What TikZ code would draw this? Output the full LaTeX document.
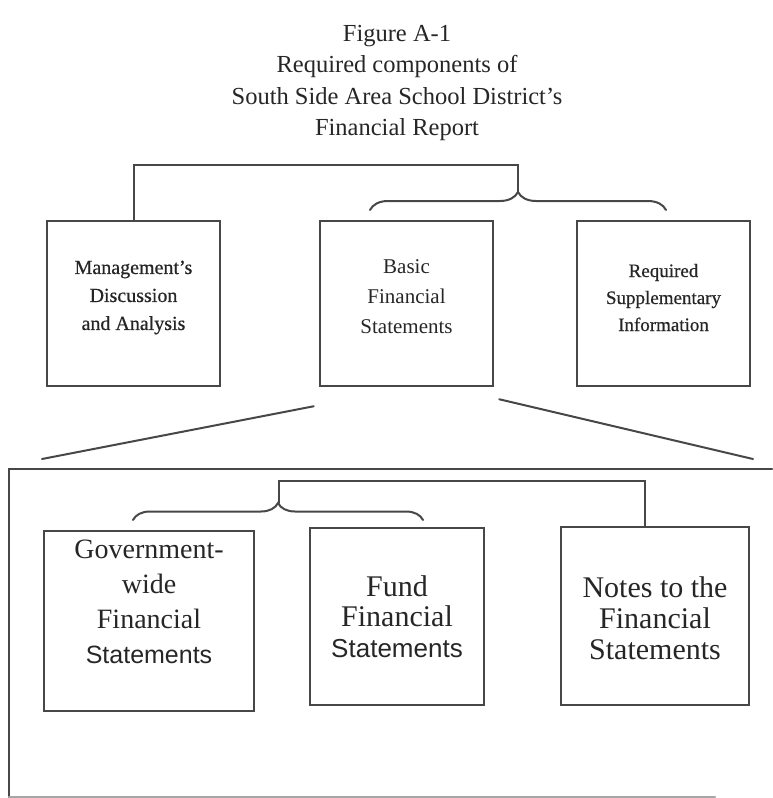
\documentclass[tikz,border=0pt]{standalone}
\usepackage{fontspec}
\setmainfont{Liberation Serif}
\newfontfamily\arialfont{Liberation Sans}
\newfontfamily\heavyfont[Ligatures=TeX,FakeBold=0.6]{Liberation Serif}
\usetikzlibrary{decorations.pathreplacing}

\begin{document}
\begin{tikzpicture}[x=1pt,y=-1pt,line cap=round,
    box/.style={draw=linecolor,line width=2.5pt,inner sep=0pt},
    boxtext/.style={align=center,text=textcolor,inner sep=0pt},
    link/.style={draw=linecolor,line width=2pt},
    curly/.style={link,decorate,decoration={brace,amplitude=#1}},
    curly/.default=17pt]

    \colorlet{linecolor}{black!72}
    \colorlet{textcolor}{black!85}

    \useasboundingbox (0,0) rectangle (772,798);

    \node[boxtext,font=\fontsize{24.5}{31.5}\selectfont] (title) at (397,83)
        {Figure A-1\\Required components of\\South Side Area School District's\\Financial Report};

    % top row
    \node[box,minimum width=173pt,minimum height=165pt] (mda) at (133.5,303.5) {};
    \node[box,minimum width=173pt,minimum height=165pt] (bfs) at (406.5,303.5) {};
    \node[box,minimum width=173pt,minimum height=165pt] (rsi) at (663.5,303.5) {};

    \node[boxtext,font=\heavyfont\fontsize{20}{28}\selectfont] at ([yshift=6pt]mda.center)
        {Management's\\Discussion\\and Analysis};
    \node[boxtext,font=\fontsize{21}{30}\selectfont] at ([yshift=7pt]bfs.center)
        {Basic\\Financial\\Statements};
    \node[boxtext,font=\heavyfont\fontsize{19}{27}\selectfont] at ([yshift=6pt]rsi.center)
        {Required\\Supplementary\\Information};

    \coordinate (topbar) at (518,165);
    \coordinate (toptip) at (518,192);
    \draw[link] (mda.north) |- (topbar) -- (toptip);
    \draw[curly=18pt] (370,210) -- (666,210);

    % fan out to the panel
    \coordinate (fanL) at (42,459);
    \coordinate (fanR) at (753,459);
    \draw[link] ([shift={(-5,19)}]bfs.south west) -- (fanL);
    \draw[link] ([shift={(5,12)}]bfs.south east) -- (fanR);

    \draw[box] (772,469) -- (9,469) -- (9,797);
    \draw[box,draw=black!35] (9,797) -- (715,797);

    % bottom row
    \node[box,minimum width=210pt,minimum height=180pt] (gwfs) at (149,621) {};
    \node[box,minimum width=174pt,minimum height=177pt] (ffs) at (397,616.5) {};
    \node[box,minimum width=188pt,minimum height=178pt] (notes) at (655,616) {};

    \node[boxtext,font=\fontsize{28}{35}\selectfont] at ([yshift=19pt]gwfs.center)
        {Government-\\wide\\Financial\\{\arialfont\fontsize{25}{35}\selectfont Statements}};
    \node[boxtext,font=\fontsize{30}{30.5}\selectfont] at (ffs.center)
        {Fund\\Financial\\{\arialfont\fontsize{26}{30.5}\selectfont Statements}};
    \node[boxtext,font=\fontsize{30}{31}\selectfont] at ([yshift=-2pt]notes.center)
        {Notes to the\\Financial\\Statements};

    \coordinate (innerbar) at (279,481);
    \coordinate (innertip) at (279,503);
    \draw[link] (innertip) -- (innerbar) -| ([xshift=-10pt]notes.north);
    \draw[curly=17pt] (133,520) -- (423,520);

\end{tikzpicture}
\end{document}
